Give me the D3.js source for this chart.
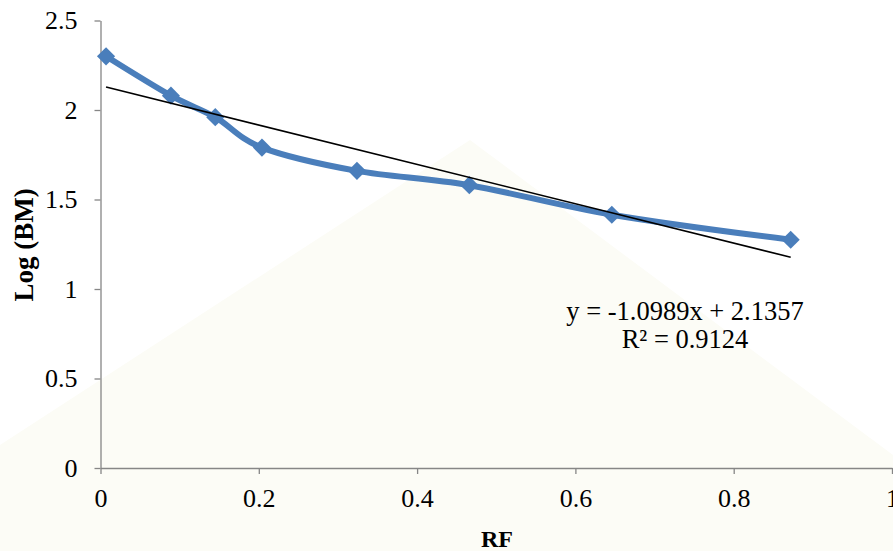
<!DOCTYPE html>
<html>
<head>
<meta charset="utf-8">
<script src="https://cdn.jsdelivr.net/npm/d3@7"></script>
<style>
  body { margin: 0; background: #ffffff; }
  svg { display: block; }
  text { font-family: "Liberation Serif", "Times New Roman", serif; fill: #000; }
</style>
</head>
<body>
<svg id="chart" width="893" height="551"></svg>
<script>
// ---- data ----
const rfValues = [0.007, 0.089, 0.145, 0.204, 0.324, 0.466, 0.646, 0.872];
const logBM    = [2.30, 2.08, 1.96, 1.79, 1.66, 1.58, 1.415, 1.275];
const trendSlope = -1.0989;
const trendIntercept = 2.1357;
const xTickValues = [0, 0.2, 0.4, 0.6, 0.8, 1];
const xTickLabels = ["0", "0.2", "0.4", "0.6", "0.8", "1"];
const yTickValues = [0, 0.5, 1, 1.5, 2, 2.5];
const yTickLabels = ["0", "0.5", "1", "1.5", "2", "2.5"];
const equationLabel = "y = -1.0989x + 2.1357";
const r2Label = "R² = 0.9124";
const xTitle = "RF";
const yTitle = "Log (BM)";

// ---- layout ----
const svg = d3.select("#chart");
const x = d3.scaleLinear().domain([0, 1]).range([100.5, 892]);
const y = d3.scaleLinear().domain([0, 2.5]).range([468, 20.5]);

// faint background watermark area
svg.append("rect").attr("width", 893).attr("height", 551).attr("fill", "#ffffff");
svg.append("polygon")
  .attr("points", "0,445 470,140 893,455 893,551 0,551")
  .attr("fill", "#fcfcf6");

const axisColor = "#868686";

// y axis
const yAxis = d3.axisLeft(y)
  .tickValues(yTickValues)
  .tickFormat((d, i) => yTickLabels[i])
  .tickSize(6)
  .tickSizeOuter(0)
  .tickPadding(17);
const gy = svg.append("g").attr("transform", `translate(${x(0)},0)`).call(yAxis);
gy.selectAll("path, line").attr("stroke", axisColor).attr("stroke-width", 1.3);
gy.selectAll("text").attr("font-size", 26);

// x axis
const xAxis = d3.axisBottom(x)
  .tickValues(xTickValues)
  .tickFormat((d, i) => xTickLabels[i])
  .tickSize(6)
  .tickSizeOuter(0)
  .tickPadding(15);
const gx = svg.append("g").attr("transform", `translate(0,${y(0)})`).call(xAxis);
gx.selectAll("path, line").attr("stroke", axisColor).attr("stroke-width", 1.3);
gx.selectAll("text").attr("font-size", 26);

// axis titles
svg.append("text")
  .attr("x", 497).attr("y", 547)
  .attr("text-anchor", "middle")
  .attr("font-size", 24).attr("font-weight", "bold")
  .text(xTitle);
svg.append("text")
  .attr("transform", "translate(33,245) rotate(-90)")
  .attr("text-anchor", "middle")
  .attr("font-size", 27).attr("font-weight", "bold")
  .text(yTitle);

// data series
const pts = rfValues.map((v, i) => [v, logBM[i]]);
const lineGen = d3.line()
  .x(d => x(d[0])).y(d => y(d[1]))
  .curve(d3.curveCardinal.tension(0));
const blue = "#4A7EBB";
svg.append("path")
  .datum(pts)
  .attr("d", lineGen)
  .attr("fill", "none")
  .attr("stroke", blue)
  .attr("stroke-width", 6)
  .attr("stroke-linejoin", "round");

// markers (diamonds)
svg.append("g").selectAll("path")
  .data(pts).join("path")
  .attr("transform", d => `translate(${x(d[0])},${y(d[1])})`)
  .attr("d", d3.symbol(d3.symbolDiamond2, 210)())
  .attr("fill", blue);

// linear trendline
const xMin = d3.min(rfValues), xMax = d3.max(rfValues);
svg.append("line")
  .attr("x1", x(xMin)).attr("y1", y(trendSlope * xMin + trendIntercept))
  .attr("x2", x(xMax)).attr("y2", y(trendSlope * xMax + trendIntercept))
  .attr("stroke", "#000").attr("stroke-width", 1.6);

// equation label
svg.append("text")
  .attr("x", 685).attr("y", 320)
  .attr("text-anchor", "middle").attr("font-size", 26.5)
  .text(equationLabel);
svg.append("text")
  .attr("x", 685).attr("y", 348)
  .attr("text-anchor", "middle").attr("font-size", 26.5)
  .text(r2Label);
</script>
</body>
</html>
